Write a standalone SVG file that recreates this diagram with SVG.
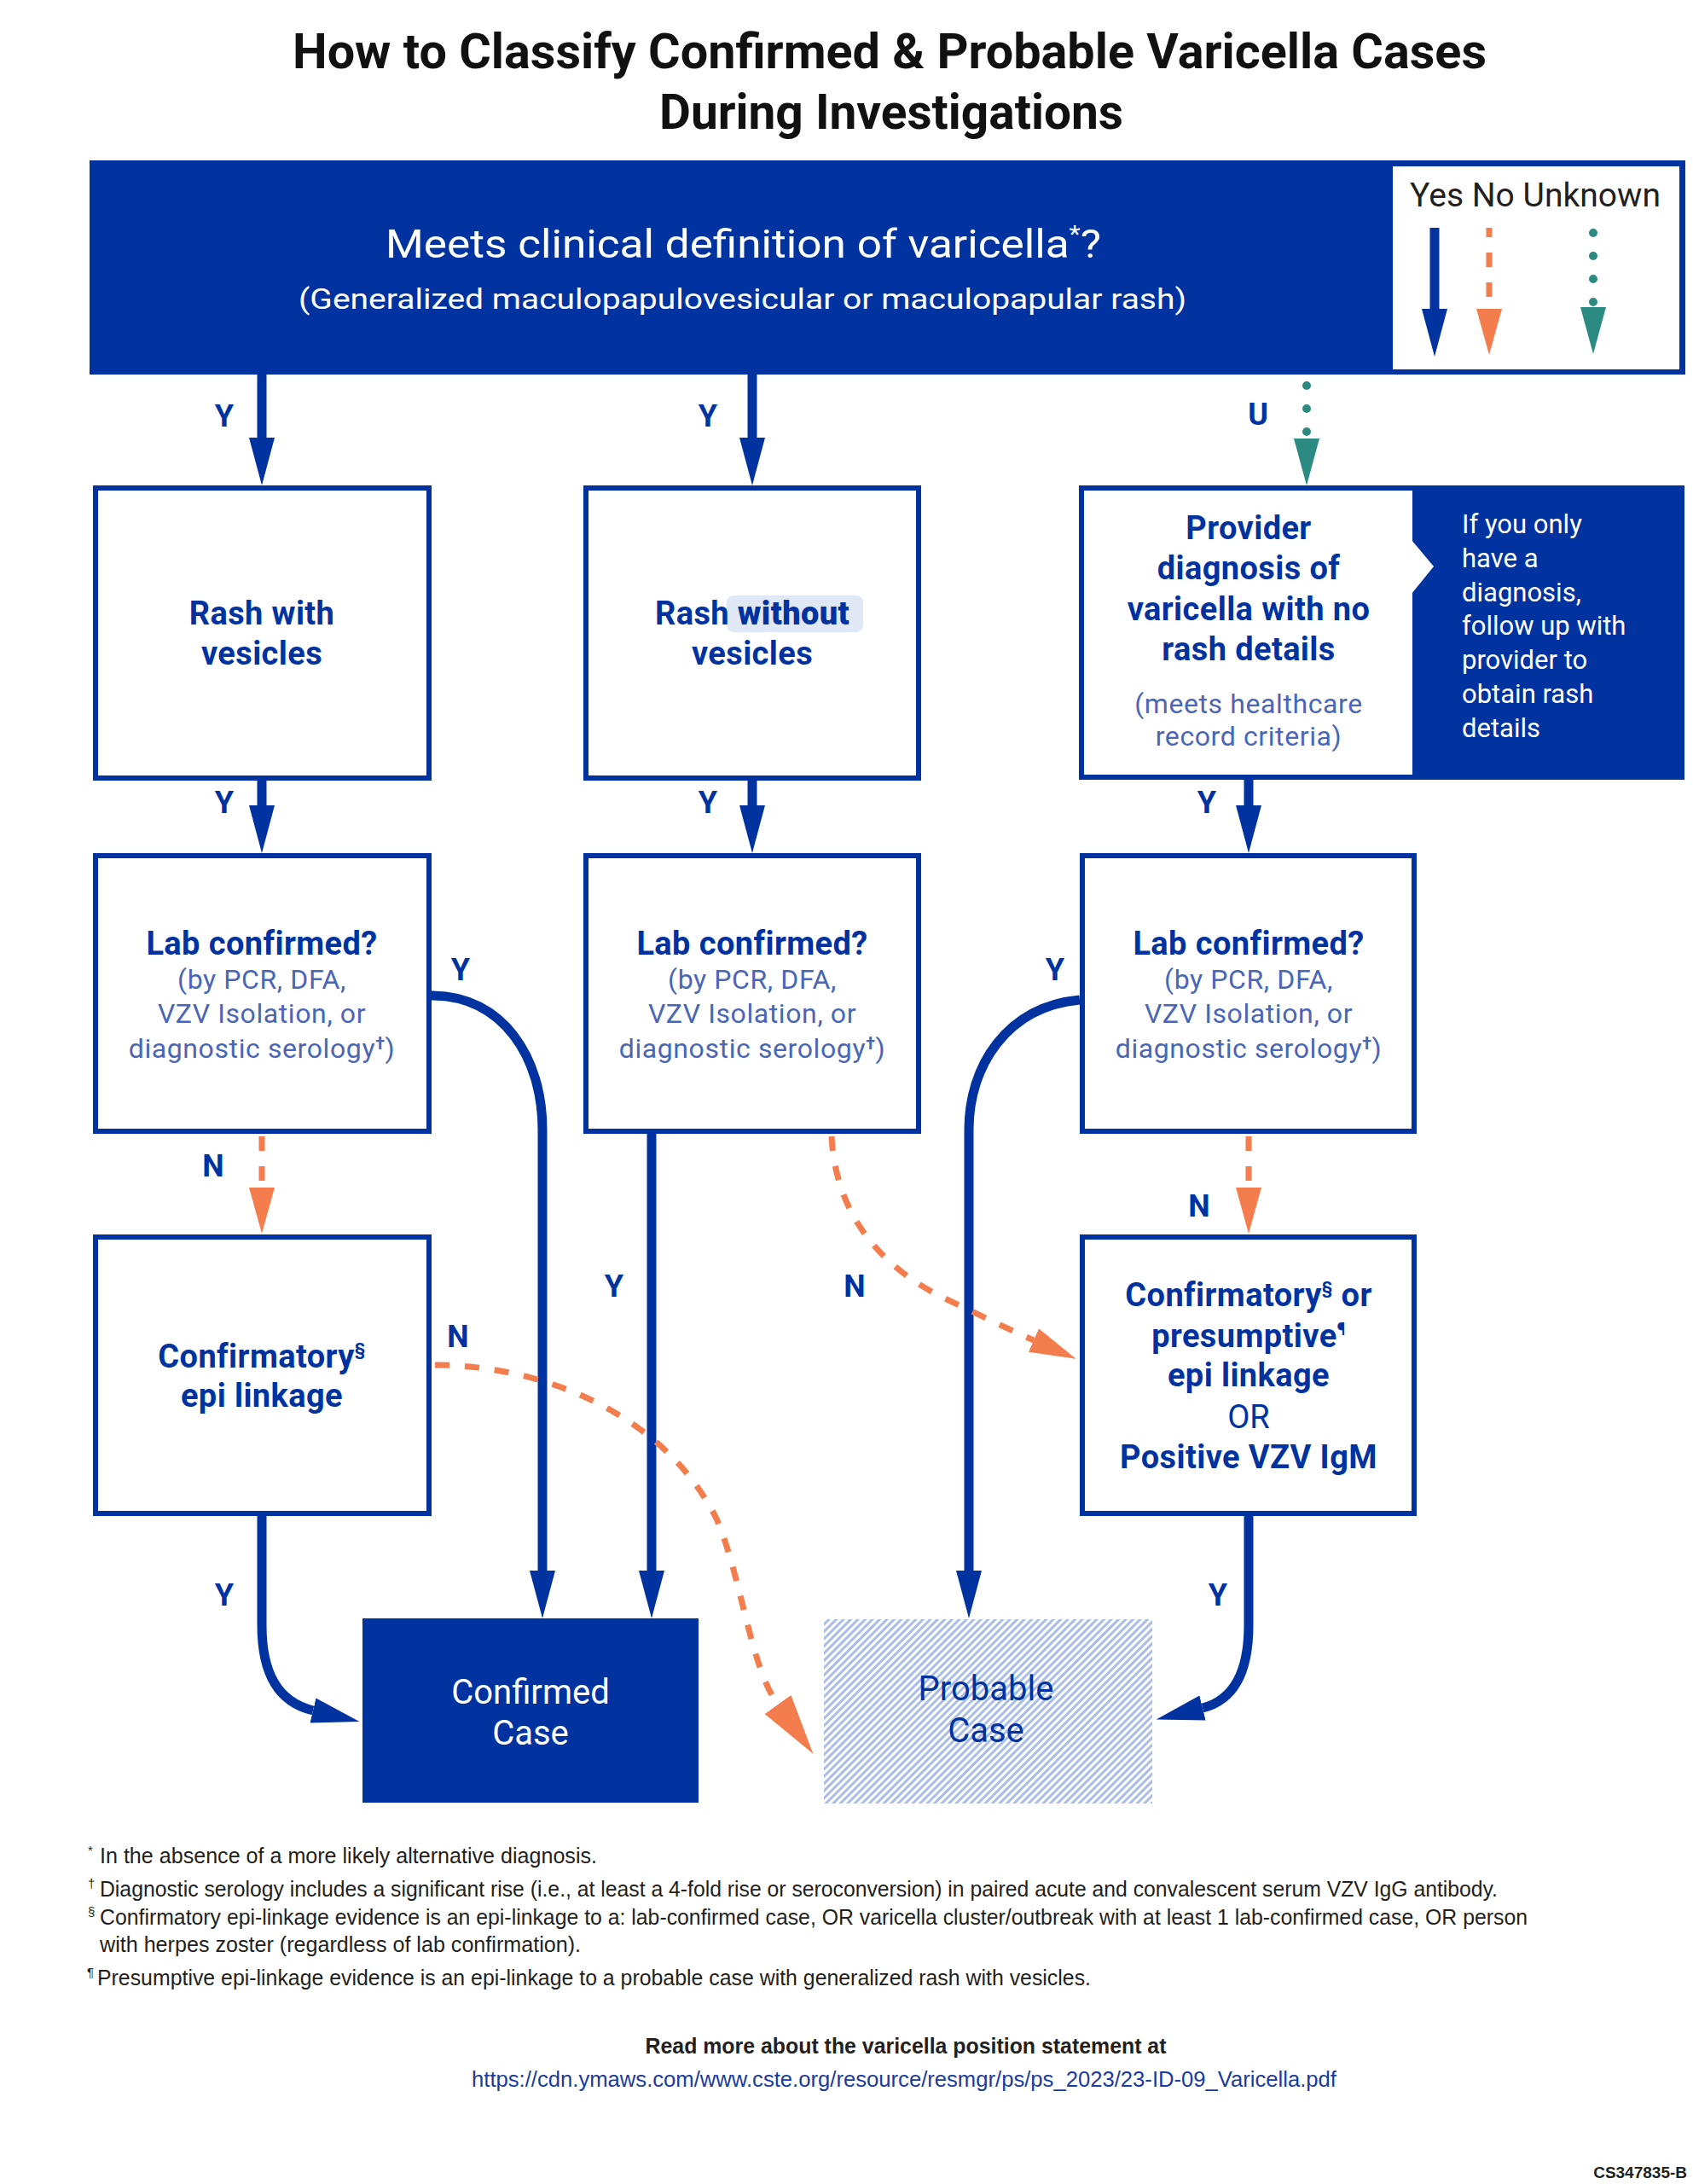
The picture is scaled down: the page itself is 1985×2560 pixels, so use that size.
<svg xmlns="http://www.w3.org/2000/svg" width="1985" height="2560" viewBox="0 0 1985 2560">
<defs>
<style>
.t{font-family:Roboto,"Liberation Sans",Arial,sans-serif}
.box{fill:#fff;stroke:#0033a0;stroke-width:6}
.h{font-family:Roboto,"Liberation Sans",Arial,sans-serif;font-size:38px;font-weight:700;fill:#0033a0;text-anchor:middle;letter-spacing:0.4px}
.r{font-family:Roboto,"Liberation Sans",Arial,sans-serif;font-size:38px;font-weight:400;fill:#0033a0;text-anchor:middle}
.l{font-family:Roboto,"Liberation Sans",Arial,sans-serif;font-size:32px;fill:#4a66b6;text-anchor:middle;letter-spacing:0.6px}
.lbl{font-family:Roboto,"Liberation Sans",Arial,sans-serif;font-size:36px;font-weight:700;fill:#0033a0;text-anchor:middle}
.yes{fill:none;stroke:#0033a0;stroke-width:11}
.no{fill:none;stroke:#f47d4e;stroke-width:7;stroke-dasharray:17 18}
.unk{fill:none;stroke:#2b8a82;stroke-width:10;stroke-linecap:round;stroke-dasharray:0 27}
.fn{font-family:"Liberation Sans",Arial,sans-serif;font-size:26px;fill:#231f20}
.fs{font-family:"Liberation Sans",Arial,sans-serif;font-size:15px;fill:#231f20}
.url{fill:#1a3c9c}
.side{font-family:Roboto,"Liberation Sans",Arial,sans-serif;font-size:31px;fill:#fff}
.case{font-family:Roboto,"Liberation Sans",Arial,sans-serif;font-size:40px;text-anchor:middle}
</style>
<marker id="ahB" markerUnits="userSpaceOnUse" viewBox="0 -16 58 32" refX="0" refY="0" markerWidth="58" markerHeight="32" orient="auto"><path d="M0,-15 L56,0 L0,15 z" fill="#0033a0"/></marker>
<marker id="ahO" markerUnits="userSpaceOnUse" viewBox="0 -16 58 32" refX="0" refY="0" markerWidth="58" markerHeight="32" orient="auto"><path d="M0,-15 L54,0 L0,15 z" fill="#f47d4e"/></marker>
<marker id="ahO2" markerUnits="userSpaceOnUse" viewBox="0 -20 74 40" refX="0" refY="0" markerWidth="74" markerHeight="40" orient="auto"><path d="M0,-19 L71,0 L0,19 z" fill="#f47d4e"/></marker>
<marker id="ahT" markerUnits="userSpaceOnUse" viewBox="0 -16 58 32" refX="0" refY="0" markerWidth="58" markerHeight="32" orient="auto"><path d="M0,-15 L55,0 L0,15 z" fill="#2b8a82"/></marker>
<pattern id="hatch" patternUnits="userSpaceOnUse" width="6" height="6" patternTransform="rotate(45)"><rect width="6" height="6" fill="#ffffff"/><rect width="3" height="6" fill="#a9bde6"/></pattern>
</defs>
<rect width="1985" height="2560" fill="#ffffff"/>

<g id="title" class="t" font-weight="700" font-size="58" fill="#111111" text-anchor="middle">
<text x="1043" y="80" textLength="1400" lengthAdjust="spacingAndGlyphs">How to Classify Confirmed &amp; Probable Varicella Cases</text>
<text x="1045" y="151" textLength="544" lengthAdjust="spacingAndGlyphs">During Investigations</text>
</g>

<g id="start">
<rect x="105" y="188" width="1871" height="251" fill="#0033a0"/>
<text class="t" x="452" y="302" font-size="47" fill="#ffffff" textLength="839" lengthAdjust="spacingAndGlyphs">Meets clinical definition of varicella<tspan font-size="28" dy="-18">*</tspan><tspan dy="18">?</tspan></text>
<text class="t" x="350" y="362" font-size="34" fill="#ffffff" textLength="1041" lengthAdjust="spacingAndGlyphs">(Generalized maculopapulovesicular or maculopapular rash)</text>
</g>

<g id="legend">
<rect x="1633" y="195" width="336" height="238" fill="#ffffff"/>
<text class="t" x="1653" y="242" font-size="38" fill="#231f20" textLength="294" lengthAdjust="spacingAndGlyphs">Yes No Unknown</text>
<path class="yes" d="M1682 267 V362" stroke-width="12" marker-end="url(#ahB)"/>
<path class="no" d="M1746 267 V362" stroke-dasharray="16 18" stroke-dashoffset="6" marker-end="url(#ahO)"/>
<path class="unk" d="M1868 273 V360" stroke-dasharray="0 26.3" marker-end="url(#ahT)"/>
</g>

<g id="rash-with">
<rect class="box" x="112" y="572" width="391" height="340"/>
<text class="h" x="307" y="732">Rash with</text>
<text class="h" x="307" y="779">vesicles</text>
</g>

<g id="rash-without">
<rect class="box" x="687" y="572" width="390" height="340"/>
<rect x="852" y="698" width="160" height="43" rx="8" fill="#e1e8f5"/>
<text class="h" x="882" y="732">Rash <tspan style="font-weight:900">without</tspan></text>
<text class="h" x="882" y="779">vesicles</text>
</g>

<g id="provider">
<rect x="1265" y="569" width="710" height="345" fill="#0033a0"/>
<rect x="1271" y="575" width="385" height="333" fill="#ffffff"/>
<polygon points="1655,633 1681,664 1655,696" fill="#ffffff"/>
<text class="h" x="1464" y="632">Provider</text>
<text class="h" x="1464" y="679">diagnosis of</text>
<text class="h" x="1464" y="727">varicella with no</text>
<text class="h" x="1464" y="774">rash details</text>
<text class="l" x="1464" y="836">(meets healthcare</text>
<text class="l" x="1464" y="874">record criteria)</text>
<text class="side" x="1714" y="625">If you only</text>
<text class="side" x="1714" y="665">have a</text>
<text class="side" x="1714" y="705">diagnosis,</text>
<text class="side" x="1714" y="744">follow up with</text>
<text class="side" x="1714" y="784">provider to</text>
<text class="side" x="1714" y="824">obtain rash</text>
<text class="side" x="1714" y="864">details</text>
</g>

<g id="lab1">
<rect class="box" x="112" y="1003" width="391" height="323"/>
<text class="h" x="307" y="1119">Lab confirmed?</text>
<text class="l" x="307" y="1159">(by PCR, DFA,</text>
<text class="l" x="307" y="1199">VZV Isolation, or</text>
<text class="l" x="307" y="1240">diagnostic serology<tspan font-size="20" font-weight="700" dy="-10">†</tspan><tspan dy="10">)</tspan></text>
</g>

<g id="lab2">
<rect class="box" x="687" y="1003" width="390" height="323"/>
<text class="h" x="882" y="1119">Lab confirmed?</text>
<text class="l" x="882" y="1159">(by PCR, DFA,</text>
<text class="l" x="882" y="1199">VZV Isolation, or</text>
<text class="l" x="882" y="1240">diagnostic serology<tspan font-size="20" font-weight="700" dy="-10">†</tspan><tspan dy="10">)</tspan></text>
</g>

<g id="lab3">
<rect class="box" x="1269" y="1003" width="389" height="323"/>
<text class="h" x="1464" y="1119">Lab confirmed?</text>
<text class="l" x="1464" y="1159">(by PCR, DFA,</text>
<text class="l" x="1464" y="1199">VZV Isolation, or</text>
<text class="l" x="1464" y="1240">diagnostic serology<tspan font-size="20" font-weight="700" dy="-10">†</tspan><tspan dy="10">)</tspan></text>
</g>

<g id="epi-confirmatory">
<rect class="box" x="112" y="1450" width="391" height="324"/>
<text class="h" x="307" y="1603">Confirmatory<tspan font-size="20" dy="-14">§</tspan></text>
<text class="h" x="307" y="1649">epi linkage</text>
</g>

<g id="epi-presumptive">
<rect class="box" x="1269" y="1450" width="389" height="324"/>
<text class="h" x="1464" y="1531">Confirmatory<tspan font-size="20" dy="-14">§</tspan><tspan dy="14"> or</tspan></text>
<text class="h" x="1464" y="1579">presumptive<tspan font-size="20" dy="-14">¶</tspan></text>
<text class="h" x="1464" y="1625">epi linkage</text>
<text class="r" x="1464" y="1674">OR</text>
<text class="h" x="1464" y="1721">Positive VZV IgM</text>
</g>

<g id="confirmed">
<rect x="425" y="1897" width="394" height="216" fill="#0033a0"/>
<text class="case" x="622" y="1997" fill="#ffffff">Confirmed</text>
<text class="case" x="622" y="2045" fill="#ffffff">Case</text>
</g>

<g id="probable">
<rect x="966" y="1898" width="385" height="216" fill="url(#hatch)"/>
<text class="case" x="1156" y="1993" fill="#0033a0">Probable</text>
<text class="case" x="1156" y="2042" fill="#0033a0">Case</text>
</g>

<g id="connectors">
<path class="yes" d="M307 439 V513" marker-end="url(#ahB)"/>
<path class="yes" d="M882 439 V513" marker-end="url(#ahB)"/>
<path class="unk" d="M1532 452 V514" marker-end="url(#ahT)"/>
<path class="yes" d="M307 915 V944" marker-end="url(#ahB)"/>
<path class="yes" d="M882 915 V944" marker-end="url(#ahB)"/>
<path class="yes" d="M1464 912 V944" marker-end="url(#ahB)"/>
<path class="yes" d="M506 1167 C590 1167 636 1240 636 1324 V1841" marker-end="url(#ahB)"/>
<path class="yes" d="M764 1329 V1841" marker-end="url(#ahB)"/>
<path class="yes" d="M1266 1172 C1180 1180 1136 1250 1136 1324 V1841" marker-end="url(#ahB)"/>
<path class="no" d="M307 1332 V1392" marker-end="url(#ahO)"/>
<path class="no" d="M1464 1332 V1392" marker-end="url(#ahO)"/>
<path class="no" d="M975 1332 C980 1430 1040 1490 1110 1523 C1150 1542 1180 1557 1212 1571" marker-end="url(#ahO)"/>
<path class="no" d="M510 1600 C640 1600 780 1660 840 1780 C870 1850 879 1952 912 1998" marker-end="url(#ahO2)"/>
<path class="yes" d="M307 1777 V1905 C307 1960 325 1995 367 2005" marker-end="url(#ahB)"/>
<path class="yes" d="M1464 1777 V1905 C1464 1960 1446 1993 1410 2002" marker-end="url(#ahB)"/>
<text class="lbl" x="263" y="500">Y</text>
<text class="lbl" x="830" y="500">Y</text>
<text class="lbl" x="1475" y="498">U</text>
<text class="lbl" x="263" y="953">Y</text>
<text class="lbl" x="830" y="953">Y</text>
<text class="lbl" x="1415" y="953">Y</text>
<text class="lbl" x="540" y="1149">Y</text>
<text class="lbl" x="1237" y="1149">Y</text>
<text class="lbl" x="250" y="1379">N</text>
<text class="lbl" x="1406" y="1426">N</text>
<text class="lbl" x="537" y="1579">N</text>
<text class="lbl" x="720" y="1520">Y</text>
<text class="lbl" x="1002" y="1520">N</text>
<text class="lbl" x="263" y="1882">Y</text>
<text class="lbl" x="1428" y="1882">Y</text>
</g>

<g id="footnotes">
<text class="fs" x="103" y="2174">*</text>
<text class="fn" x="117" y="2184" textLength="583" lengthAdjust="spacingAndGlyphs">In the absence of a more likely  alternative diagnosis.</text>
<text class="fs" x="103" y="2213">†</text>
<text class="fn" x="117" y="2223" textLength="1639" lengthAdjust="spacingAndGlyphs">Diagnostic serology includes a significant rise (i.e., at least a 4-fold rise or seroconversion) in paired acute and convalescent serum VZV IgG  antibody.</text>
<text class="fs" x="103" y="2246">§</text>
<text class="fn" x="117" y="2256" textLength="1674" lengthAdjust="spacingAndGlyphs">Confirmatory epi-linkage evidence is an epi-linkage to a: lab-confirmed case, OR varicella cluster/outbreak with at least 1 lab-confirmed case, OR person</text>
<text class="fn" x="117" y="2288" textLength="564" lengthAdjust="spacingAndGlyphs">with herpes zoster (regardless of lab confirmation).</text>
<text class="fs" x="102" y="2317">¶</text>
<text class="fn" x="114" y="2327" textLength="1165" lengthAdjust="spacingAndGlyphs">Presumptive epi-linkage evidence is an epi-linkage to a probable case with generalized rash with vesicles.</text>
<text class="fn" x="1062" y="2407" font-weight="700" text-anchor="middle" textLength="611" lengthAdjust="spacingAndGlyphs">Read more about the varicella position statement at</text>
<text class="fn url" x="553" y="2446" textLength="1014" lengthAdjust="spacingAndGlyphs">https://cdn.ymaws.com/www.cste.org/resource/resmgr/ps/ps_2023/23-ID-09_Varicella.pdf</text>
<text class="fs" x="1978" y="2553" style="font-size:19px;font-weight:700" text-anchor="end">CS347835-B</text>
</g>
</svg>
